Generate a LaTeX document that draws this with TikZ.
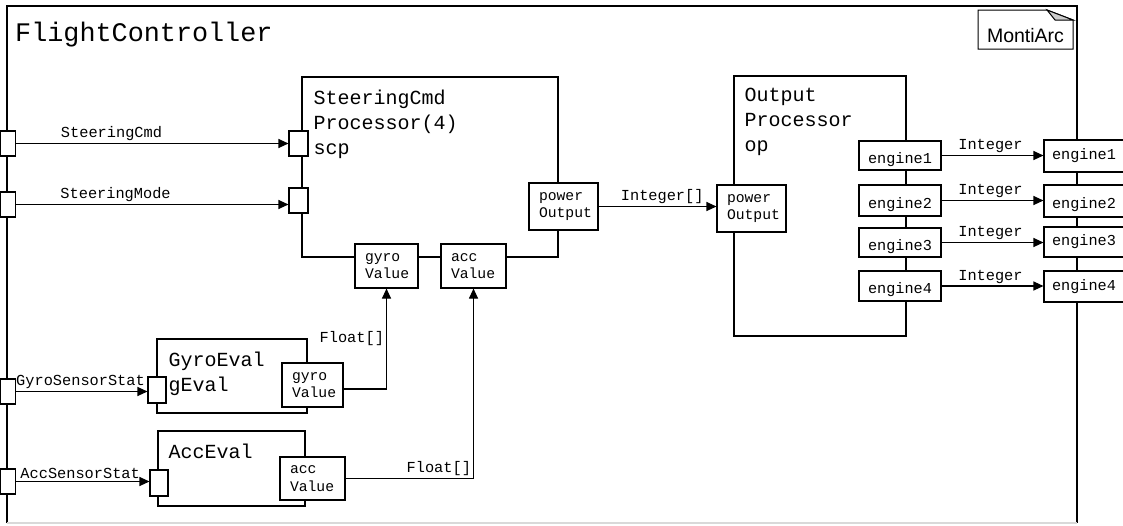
\documentclass[tikz,border=0pt]{standalone}
\usepackage{fontspec}
\setmainfont{Liberation Sans}
\setmonofont{Liberation Mono}
\usetikzlibrary{arrows.meta}
\newcommand{\lowtext}[1]{\raisebox{-4pt}[\height][\depth]{#1}}
\begin{document}
\begin{tikzpicture}[x=1pt,y=-1pt,
 comp/.style={draw, line width=1.3pt, inner sep=0pt},
 port/.style={draw, fill=white, line width=1.1pt, inner sep=0pt, inner xsep=10pt, align=left, font=\ttfamily\fontsize{14.7}{17.5}\selectfont},
 eport/.style={draw, fill=white, line width=1.1pt, inner sep=0pt, font=\ttfamily\fontsize{15.2}{17.5}\selectfont},
 bport/.style={draw, fill=white, line width=1.1pt, inner sep=0pt},
 conn/.style={line width=1.1pt},
 arr/.style={conn, -{Triangle[length=10pt,width=9pt]}},
 elab/.style={font=\ttfamily\fontsize{15.3}{17}\selectfont, inner sep=2pt},
 ctitle/.style={font=\ttfamily\fontsize{20}{25}\selectfont, align=left, anchor=north west, inner sep=0pt},
]
\useasboundingbox (0,0) rectangle (1123,525);
% outer frame
\draw[line width=1.6pt] (7,523) -- (7,6) -- (1077,6) -- (1077,523);
\draw[line width=1.6pt, black!15] (7,523) -- (1077,523);
\node[font=\ttfamily\fontsize{26.8}{30}\selectfont, anchor=base west, inner sep=0pt] (fc) at (15,41) {FlightController};
% MontiArc note
\draw[line width=1pt, fill=white] (978,10) -- (1047,10) -- (1073,20) -- (1073,49) -- (978,49) -- cycle;
\draw[line width=1pt, fill=black!20] (1047,10) -- (1055,20) -- (1073,20) -- cycle;
\node[font=\fontsize{19.5}{22}\selectfont, anchor=base, inner sep=0pt] (ma) at (1025.5,42) {MontiArc};

% components
\node[comp, minimum width=256pt, minimum height=180pt] (scp) at (430,167) {};
\node[ctitle] (scpt) at ([xshift=12pt,yshift=-13pt]scp.north west) {SteeringCmd\\Processor(4)\\scp};
\node[comp, minimum width=172pt, minimum height=260pt] (op) at (820,206) {};
\node[ctitle] (opt) at ([xshift=11pt,yshift=-13pt]op.north west) {Output\\Processor\\op};
\node[comp, minimum width=150pt, minimum height=74pt] (ge) at (232,376) {};
\node[ctitle] (get) at ([xshift=12pt,yshift=-13pt]ge.north west) {GyroEval\\gEval};
\node[comp, minimum width=147pt, minimum height=75pt] (ae) at (231.5,468.5) {};
\node[ctitle] (aet) at ([xshift=11pt,yshift=-13pt]ae.north west) {AccEval};

% outer left ports
\node[bport, minimum width=15.7pt, minimum height=25pt] (lp1) at (7.8,143.5) {};
\node[bport, minimum width=15.7pt, minimum height=25pt] (lp2) at (7.8,204.5) {};
\node[bport, minimum width=15.7pt, minimum height=25pt] (lp3) at (7.8,391.5) {};
\node[bport, minimum width=15.7pt, minimum height=25pt] (lp4) at (7.8,481.5) {};
% scp ports
\node[bport, minimum width=19pt, minimum height=25pt] (si1) at (298.5,143.5) {};
\node[bport, minimum width=19pt, minimum height=25pt] (si2) at (298.5,200.5) {};
\node[port, minimum width=63pt, minimum height=44pt, text width=43pt] (sgv) at (386.5,266) {gyro\\Value};
\node[port, minimum width=65pt, minimum height=44pt, text width=45pt] (sav) at (473.5,266) {acc\\Value};
\node[port, minimum width=69pt, minimum height=47pt, text width=49pt] (spo) at (563.5,206.5) {power\\Output};
% op ports
\node[port, minimum width=69pt, minimum height=47pt, text width=49pt] (opi) at (751.5,208.5) {power\\Output};
\node[eport, minimum width=82pt, minimum height=29pt] (e1) at (900,155.5) {\lowtext{engine1}};
\node[eport, minimum width=82pt, minimum height=31pt] (e2) at (900,200.5) {\lowtext{engine2}};
\node[eport, minimum width=82pt, minimum height=29pt] (e3) at (900,242.5) {\lowtext{engine3}};
\node[eport, minimum width=82pt, minimum height=30pt] (e4) at (900,286) {\lowtext{engine4}};
% outer right ports
\node[eport, minimum width=80pt, minimum height=32pt] (r1) at (1084,156) {engine1};
\node[eport, minimum width=80pt, minimum height=32pt] (r2) at (1084,201) {\lowtext{engine2}};
\node[eport, minimum width=80pt, minimum height=30pt] (r3) at (1084,242) {engine3};
\node[eport, minimum width=80pt, minimum height=31pt] (r4) at (1084,286.5) {engine4};
% eval ports
\node[bport, minimum width=18pt, minimum height=26pt] (gi) at (157,390) {};
\node[port, minimum width=61pt, minimum height=44pt, text width=41pt] (gv) at (312.5,385) {gyro\\Value};
\node[bport, minimum width=18pt, minimum height=26pt] (ai) at (159,483) {};
\node[port, minimum width=65pt, minimum height=43pt, text width=45pt] (av) at (312.5,478.5) {acc\\Value};

% connectors
\draw[arr] (lp1.east) -- (lp1.east -| si1.west) node[elab, above, pos=.35] (l1) {SteeringCmd};
\draw[arr] (lp2.east) -- (lp2.east -| si2.west) node[elab, above, pos=.365] (l2) {SteeringMode};
\draw[arr] (lp3.east) -- (lp3.east -| gi.west) node[elab, above, pos=.49] (l3) {GyroSensorStat};
\draw[arr] (lp4.east) -- (lp4.east -| ai.west) node[elab, above, pos=.48] (l4) {AccSensorStat};
\draw[arr] (spo.east) -- (spo.east -| opi.west) node[elab, above, pos=.54] (l5) {Integer[]};
\draw[arr] (e1.east) -- (e1.east -| r1.west) node[elab, above, pos=.48] (l6) {Integer};
\draw[arr] (e2.east) -- (e2.east -| r2.west) node[elab, above, pos=.48] (l7) {Integer};
\draw[arr] (e3.east) -- (e3.east -| r3.west) node[elab, above, pos=.48] (l8) {Integer};
\draw[arr] (e4.east) -- (e4.east -| r4.west) node[elab, above, pos=.48] (l9) {Integer};
\draw[arr] ([yshift=-4pt]gv.east) -| (sgv.south) node[elab, left, pos=.75] (l10) {Float[]};
\draw[arr] (av.east) -| (sav.south) node[elab, anchor=south east, pos=.5] (l11) {Float[]};
\end{tikzpicture}
\end{document}
